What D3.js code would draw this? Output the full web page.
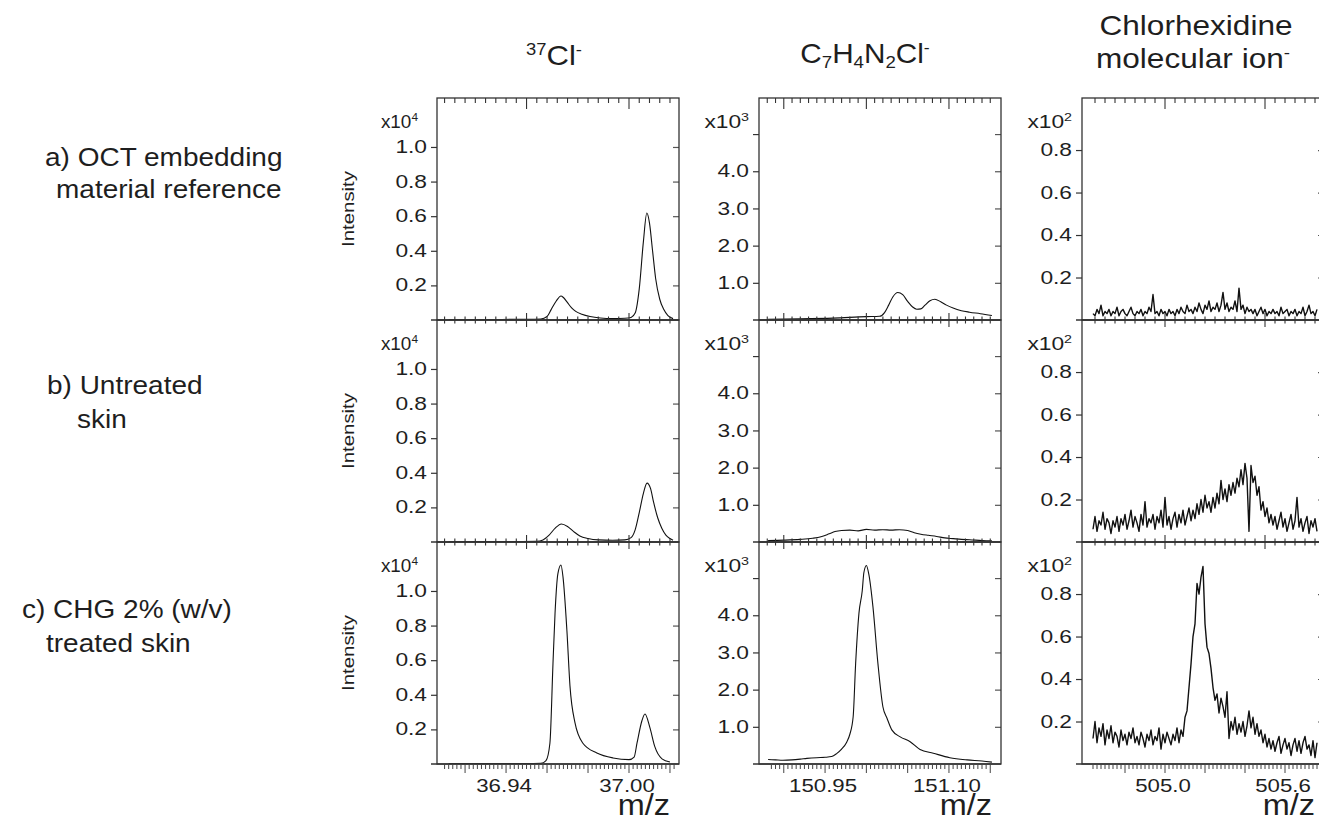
<!DOCTYPE html>
<html><head><meta charset="utf-8">
<script src="https://cdn.jsdelivr.net/npm/d3@7"></script>
<style>
body{margin:0;background:#fff}
svg{display:block}
text{font-family:"Liberation Sans",Arial,Helvetica,sans-serif;fill:#1e1e1e}
</style>
</head><body>
<svg id="c" width="1319" height="819"></svg>
<script>
// ---------------- DATA ----------------
const columnTitles = ["37Cl-", "C7H4N2Cl-", "Chlorhexidine molecular ion-"];
const rowLabels = [["a) OCT embedding","material reference"],["b) Untreated","skin"],["c) CHG 2% (w/v)","treated skin"]];
const yTickVals = [[0.2,0.4,0.6,0.8,1.0],[1,2,3,4,5],[0.2,0.4,0.6,0.8]];
const yTickLabelled = [[0.2,0.4,0.6,0.8,1.0],[1,2,3,4],[0.2,0.4,0.6,0.8]];
const yExponents = ["4","3","2"];
const xTickLabels = [[36.94,37.00],[150.95,151.10],[505.0,505.6]];

// 37Cl- (m/z, intensity x10^4)
const cl37A = [[36.912,0.003],[36.930,0.003],[36.950,0.004],[36.957,0.006],[36.960,0.02],[36.962,0.06],[36.9645,0.11],[36.9668,0.139],[36.968,0.13],[36.970,0.10],[36.972,0.07],[36.974,0.05],[36.977,0.033],[36.981,0.02],[36.986,0.012],[36.992,0.009],[36.998,0.01],[37.001,0.015],[37.003,0.04],[37.005,0.18],[37.007,0.45],[37.0087,0.618],[37.010,0.56],[37.0115,0.40],[37.013,0.24],[37.015,0.12],[37.017,0.06],[37.019,0.025],[37.0215,0.008]];
const cl37B = [[36.912,0.002],[36.940,0.002],[36.955,0.004],[36.958,0.012],[36.961,0.04],[36.964,0.08],[36.967,0.104],[36.970,0.09],[36.973,0.06],[36.976,0.035],[36.980,0.02],[36.985,0.012],[36.992,0.01],[36.998,0.012],[37.001,0.025],[37.003,0.07],[37.005,0.17],[37.007,0.28],[37.0088,0.34],[37.0105,0.31],[37.012,0.23],[37.014,0.14],[37.016,0.08],[37.018,0.04],[37.020,0.02],[37.0215,0.01]];
const cl37C = [[36.912,0.002],[36.930,0.003],[36.950,0.002],[36.957,0.004],[36.9595,0.02],[36.9614,0.12],[36.9629,0.58],[36.9639,0.87],[36.9653,1.10],[36.9668,1.15],[36.9678,1.08],[36.9697,0.77],[36.9712,0.45],[36.9736,0.24],[36.9775,0.12],[36.9843,0.064],[36.9922,0.035],[37.0000,0.025],[37.0025,0.04],[37.0039,0.12],[37.0063,0.25],[37.0078,0.289],[37.0102,0.21],[37.0126,0.10],[37.0161,0.03],[37.0200,0.012]];

// C7H4N2Cl- (m/z, intensity x10^3)
const frgA = [[150.881,0.02],[150.920,0.03],[150.960,0.05],[151.000,0.09],[151.016,0.10],[151.022,0.20],[151.027,0.40],[151.032,0.62],[151.038,0.74],[151.044,0.68],[151.050,0.50],[151.056,0.35],[151.061,0.29],[151.066,0.30],[151.071,0.40],[151.077,0.52],[151.083,0.56],[151.090,0.49],[151.097,0.40],[151.105,0.32],[151.115,0.25],[151.125,0.21],[151.138,0.17],[151.152,0.12]];
const frgB = [[150.881,0.04],[150.900,0.05],[150.920,0.07],[150.935,0.10],[150.945,0.14],[150.955,0.22],[150.962,0.28],[150.970,0.31],[150.980,0.32],[150.990,0.30],[151.000,0.34],[151.010,0.32],[151.020,0.33],[151.030,0.32],[151.040,0.33],[151.050,0.31],[151.058,0.25],[151.066,0.21],[151.075,0.18],[151.085,0.15],[151.095,0.11],[151.105,0.09],[151.115,0.07],[151.125,0.06],[151.140,0.04],[151.152,0.03]];
const frgC = [[150.881,0.12],[150.890,0.11],[150.899,0.10],[150.910,0.11],[150.920,0.13],[150.928,0.15],[150.940,0.17],[150.950,0.18],[150.958,0.20],[150.964,0.28],[150.970,0.40],[150.976,0.58],[150.980,0.80],[150.984,1.27],[150.987,2.70],[150.991,4.05],[150.995,4.66],[150.997,5.15],[151.000,5.34],[151.003,5.10],[151.008,4.22],[151.014,2.70],[151.020,1.54],[151.025,1.23],[151.031,0.91],[151.041,0.73],[151.053,0.60],[151.065,0.39],[151.081,0.29],[151.101,0.17],[151.122,0.11],[151.140,0.08],[151.152,0.05]];

// Chlorhexidine molecular ion (m/z 504.64 ... 505.76 every 0.01, intensity x10^2)
const chxMz = d3.range(113).map(i => +(504.64 + i * 0.01).toFixed(2));
const chxA = [0.03,0.02,0.05,0.03,0.07,0.02,0.04,0.03,0.05,0.02,
  0.04,0.03,0.06,0.02,0.04,0.05,0.03,0.02,0.04,0.06,
  0.03,0.02,0.04,0.03,0.05,0.02,0.04,0.03,0.06,0.04,
  0.12,0.03,0.04,0.02,0.05,0.03,0.04,0.02,0.05,0.03,
  0.04,0.02,0.05,0.03,0.06,0.04,0.03,0.07,0.04,0.05,
  0.03,0.06,0.04,0.08,0.05,0.03,0.07,0.05,0.09,0.04,
  0.06,0.05,0.08,0.04,0.07,0.13,0.05,0.08,0.04,0.06,
  0.05,0.09,0.04,0.15,0.05,0.07,0.03,0.06,0.04,0.05,
  0.03,0.05,0.02,0.04,0.06,0.03,0.05,0.02,0.04,0.03,
  0.05,0.03,0.04,0.02,0.06,0.03,0.04,0.05,0.02,0.04,
  0.03,0.05,0.02,0.04,0.03,0.06,0.02,0.04,0.07,0.03,
  0.04,0.02,0.05];
const chxB = [0.06,0.12,0.05,0.10,0.08,0.14,0.06,0.11,0.09,0.04,
  0.10,0.07,0.12,0.05,0.11,0.08,0.13,0.06,0.10,0.15,
  0.07,0.12,0.09,0.05,0.13,0.08,0.19,0.07,0.11,0.09,
  0.13,0.06,0.12,0.09,0.15,0.07,0.21,0.08,0.12,0.06,
  0.11,0.14,0.07,0.13,0.09,0.15,0.08,0.12,0.16,0.10,
  0.15,0.11,0.18,0.13,0.20,0.14,0.22,0.16,0.19,0.14,
  0.21,0.16,0.23,0.18,0.29,0.20,0.25,0.19,0.27,0.22,
  0.28,0.23,0.30,0.26,0.34,0.27,0.37,0.30,0.05,0.36,
  0.28,0.31,0.22,0.26,0.15,0.19,0.12,0.16,0.09,0.13,
  0.08,0.12,0.06,0.10,0.14,0.07,0.11,0.05,0.09,0.13,
  0.06,0.10,0.21,0.07,0.11,0.05,0.09,0.12,0.04,0.10,
  0.07,0.11,0.05];
const chxC = [0.12,0.20,0.10,0.17,0.13,0.19,0.09,0.16,0.12,0.18,
  0.10,0.15,0.13,0.08,0.16,0.11,0.14,0.09,0.15,0.12,
  0.17,0.10,0.13,0.09,0.15,0.12,0.08,0.14,0.11,0.16,
  0.09,0.13,0.11,0.17,0.07,0.14,0.10,0.15,0.12,0.09,
  0.14,0.11,0.17,0.10,0.16,0.13,0.22,0.25,0.36,0.47,
  0.60,0.66,0.85,0.80,0.88,0.93,0.66,0.55,0.52,0.45,
  0.36,0.30,0.33,0.24,0.31,0.27,0.22,0.34,0.12,0.20,
  0.16,0.22,0.14,0.19,0.15,0.20,0.13,0.18,0.25,0.17,
  0.22,0.14,0.19,0.13,0.16,0.10,0.14,0.08,0.12,0.07,
  0.11,0.06,0.10,0.13,0.05,0.09,0.12,0.07,0.10,0.04,
  0.09,0.12,0.06,0.11,0.05,0.10,0.13,0.07,0.09,0.04,
  0.11,0.03,0.10];

// ---------------- LAYOUT ----------------
const colLeft = [437, 759, 1082], colW = 242;
const rowTop = [98, 320, 542], rowH = 222;
const xDomains = [[36.9063, 37.0244], [150.870, 151.163], [504.585, 505.795]];
const yMaxes = [1.283, 5.97, 1.045];
// tick specs: [start, end, minorStep, majorStep]
const topTickSpec = [[36.91, 37.02, 0.005, 0.05], [150.88, 151.15, 0.01, 0.1], [504.65, 505.75, 0.05, 0.5]];
const botTickSpec = [[36.91, 37.022, 0.002, 0.02], [150.885, 151.15, 0.005, 0.05], [504.64, 505.78, 0.02, 0.2]];
const yFormats = [".1f", ".1f", ".1f"];

const series = [
  [cl37A, cl37B, cl37C],
  [frgA, frgB, frgC],
  [chxA, chxB, chxC].map(arr => arr.map((v, i) => [chxMz[i], v]))
];

const svg = d3.select("#c");
const INK = "#1a1a1a";

function stext(parent, x, y, parts, size, S, anchor, rot) {
  const g = parent.append("g").attr("transform", `translate(${x},${y}) rotate(${rot || 0}) scale(${S},1)`);
  const t = g.append("text").attr("font-size", size).attr("text-anchor", anchor || "start");
  let off = 0;
  parts.forEach(p => {
    const ts = t.append("tspan").text(p.t);
    let target = 0;
    if (p.sup) { target = -size * 0.38; ts.attr("font-size", p.fs || size * 0.62); }
    if (p.sub) { target = size * 0.2; ts.attr("font-size", p.fs || size * 0.62); }
    ts.attr("dy", target - off);
    off = target;
  });
  return g;
}

function tickVals(spec) {
  const [a, b, step] = spec;
  const n = Math.round((b - a) / step);
  return d3.range(n + 1).map(i => +(a + i * step).toFixed(4));
}
function isMajor(v, step) { const q = v / step; return Math.abs(q - Math.round(q)) < 1e-4; }

const defs = svg.append("defs");

for (let c = 0; c < 3; c++) {
  const left = colLeft[c], right = left + colW;
  const x = d3.scaleLinear().domain(xDomains[c]).range([left, right]);
  for (let r = 0; r < 3; r++) {
    const top = rowTop[r], bot = top + rowH;
    const y = d3.scaleLinear().domain([0, yMaxes[c]]).range([bot, top]);
    const id = `clip${c}${r}`;
    defs.append("clipPath").attr("id", id).append("rect").attr("x", left).attr("y", top).attr("width", colW).attr("height", rowH);
    const line = d3.line().x(d => x(d[0])).y(d => y(d[1])).curve(c < 2 ? d3.curveMonotoneX : d3.curveLinear);
    svg.append("path").datum(series[c][r]).attr("clip-path", `url(#${id})`)
      .attr("d", line).attr("fill", "none").attr("stroke", "#111")
      .attr("stroke-width", c < 2 ? 1.1 : 1.4).attr("stroke-linejoin", "round");

    // left axis
    const fmt = d3.format(yFormats[c]);
    const la = svg.append("g").attr("transform", `translate(${left},0)`)
      .call(d3.axisLeft(y).tickValues(yTickVals[c]).tickSize(6)
        .tickFormat(v => yTickLabelled[c].includes(v) ? fmt(v) : ""));
    la.select(".domain").remove();
    la.selectAll("line").attr("stroke", "#333").attr("stroke-width", 1.2);
    la.selectAll("text").attr("font-size", 17.5).attr("fill", INK)
      .attr("font-family", '"Liberation Sans",Arial,sans-serif')
      .attr("x", -10 / 1.3).attr("transform", "scale(1.3,1)");
    // right axis (inward ticks)
    const ra = svg.append("g").attr("transform", `translate(${right},0)`)
      .call(d3.axisRight(y).tickValues(yTickVals[c]).tickSize(-6).tickFormat(""));
    ra.select(".domain").remove();
    ra.selectAll("line").attr("stroke", "#555").attr("stroke-width", 1.2);

    // exponent label
    const expEnd = c === 0 ? left - 19 : left - 10;
    stext(svg, expEnd, top + 30, [{ t: "x10" }, { t: yExponents[c], sup: true, fs: 11 }], 17.5, c === 0 ? 1.08 : 1.3, "end");

    // frame
    svg.append("rect").attr("x", left).attr("y", top).attr("width", colW).attr("height", rowH)
      .attr("fill", "none").attr("stroke", "#333").attr("stroke-width", 1.3);

    // top-edge ticks
    const tv = tickVals(topTickSpec[c]);
    const tg = svg.append("g");
    if (r === 0) {
      tg.selectAll("line").data(tv).join("line")
        .attr("x1", d => x(d)).attr("x2", d => x(d))
        .attr("y1", top).attr("y2", d => top + (isMajor(d, topTickSpec[c][3]) ? 11 : 5))
        .attr("stroke", "#333").attr("stroke-width", 1.1);
    } else {
      svg.append("line").attr("x1", left - 6).attr("x2", right).attr("y1", top).attr("y2", top)
        .attr("stroke", "#333").attr("stroke-width", 1.3);
      tg.selectAll("line").data(tv).join("line")
        .attr("x1", d => x(d)).attr("x2", d => x(d))
        .attr("y1", d => top - (isMajor(d, topTickSpec[c][3]) ? 7 : 3.5))
        .attr("y2", d => top + (isMajor(d, topTickSpec[c][3]) ? 7 : 3.5))
        .attr("stroke", "#333").attr("stroke-width", 1.1);
    }
    if (r === 2) {
      svg.append("line").attr("x1", left - 6).attr("x2", right).attr("y1", bot).attr("y2", bot)
        .attr("stroke", "#333").attr("stroke-width", 1.3);
      const bv = tickVals(botTickSpec[c]);
      svg.append("g").selectAll("line").data(bv).join("line")
        .attr("x1", d => x(d)).attr("x2", d => x(d))
        .attr("y1", bot).attr("y2", d => bot + (isMajor(d, botTickSpec[c][3]) ? 9 : 5))
        .attr("stroke", "#444").attr("stroke-width", 1);
      xTickLabels[c].forEach(v => {
        stext(svg, x(v) - 2, bot + 28, [{ t: c === 2 ? v.toFixed(1) : v.toFixed(2) }], 17.5, 1.27, "middle");
      });
      stext(svg, right - 9, 815, [{ t: "m/z" }], 29, 1.12, "end");
    }
    if (c === 0) {
      stext(svg, 354, top + rowH / 2, [{ t: "Intensity" }], 17, 1.2, "middle", -90);
    }
  }
}

// column titles
stext(svg, 554, 65, [{ t: "37", sup: true, fs: 16 }, { t: "Cl" }, { t: "-", sup: true, fs: 16 }], 27, 1.15, "middle");
stext(svg, 865, 63, [{ t: "C" }, { t: "7", sub: true, fs: 17 }, { t: "H" }, { t: "4", sub: true, fs: 17 }, { t: "N" }, { t: "2", sub: true, fs: 17 }, { t: "Cl" }, { t: "-", sup: true, fs: 16 }], 27, 1.1, "middle");
stext(svg, 1196, 35, [{ t: "Chlorhexidine" }], 27, 1.17, "middle");
stext(svg, 1193, 68, [{ t: "molecular ion" }, { t: "-", sup: true, fs: 16 }], 27, 1.17, "middle");

// row labels
const rowLabelPos = [[[45, 166], [56, 198]], [[47, 394], [77, 428]], [[22, 618], [46, 652]]];
rowLabels.forEach((lines, r) => {
  lines.forEach((txt, k) => {
    stext(svg, rowLabelPos[r][k][0], rowLabelPos[r][k][1], [{ t: txt }], 25, 1.12, "start");
  });
});
</script>
</body></html>
